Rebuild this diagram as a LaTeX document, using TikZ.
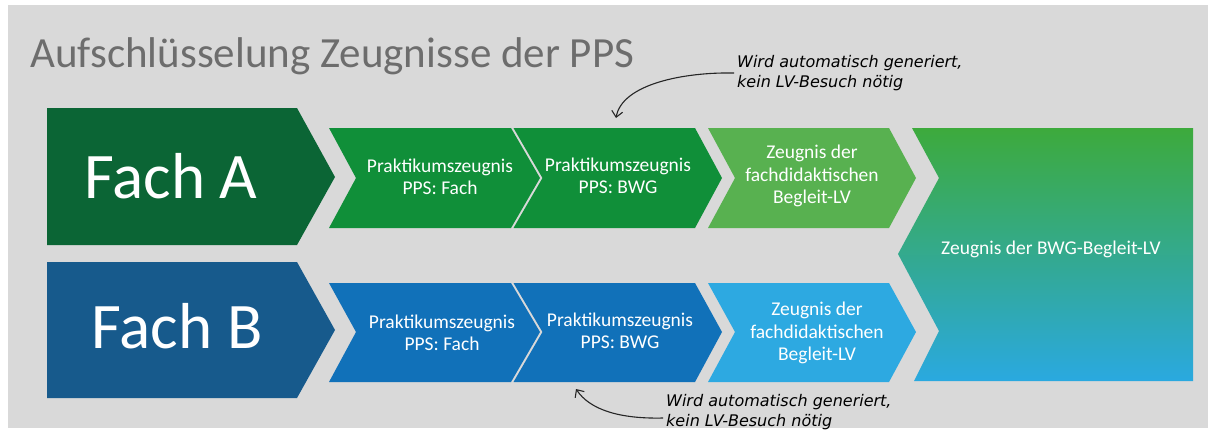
\documentclass[tikz,border=0pt]{standalone}
\usepackage{fontspec}
\setmainfont{Carlito}
\newfontfamily\handfont{DejaVu Sans}
\usetikzlibrary{arrows.meta}
\definecolor{bggray}{HTML}{D9D9D9}
\definecolor{titlegray}{HTML}{6D6D6D}
\definecolor{fachgreen}{RGB}{11,101,53}
\definecolor{ppsgreen}{RGB}{16,143,57}
\definecolor{fdgreen}{RGB}{88,177,80}
\definecolor{fachblue}{RGB}{23,90,140}
\definecolor{ppsblue}{RGB}{17,113,185}
\definecolor{fdblue}{RGB}{45,169,225}
\definecolor{bwgtop}{RGB}{61,170,60}
\definecolor{bwgbottom}{RGB}{42,169,224}
\tikzset{
  boxtext/.style={text=white, align=center, inner sep=0pt, font=\fontsize{19.5}{22.5}\selectfont},
  fachtext/.style={text=white, anchor=base, inner sep=0pt, font=\fontsize{65}{70}\selectfont},
  notetext/.style={anchor=west, align=left, inner sep=0pt, font=\handfont\itshape\fontsize{16}{20}\selectfont},
  notearrow/.style={-{Straight Barb[length=6pt,width=11pt]}, line width=1.1pt, black!85}
}
\begin{document}
\begin{tikzpicture}[x=1pt,y=-1pt]
\useasboundingbox (0,0) rectangle (1214,432);
\fill[bggray] (8,5) rectangle (1208,428);
% title
\node (title) [anchor=base west, inner sep=0pt, text=titlegray, font=\fontsize{43}{48}\selectfont] at (30,67) {Aufschl\"usselung Zeugnisse der PPS};
% Fach A row
\fill[fachgreen] (47,108) -- (297,108) -- (335,177) -- (297,245) -- (47,245) -- cycle;
\fill[ppsgreen] (329,128) -- (511,128) -- (540,178) -- (511,228) -- (329,228) -- (356,178) -- cycle;
\fill[ppsgreen] (513.5,128) -- (695,128) -- (722,178) -- (695,228) -- (513.5,228) -- (542.5,178) -- cycle;
\fill[fdgreen] (708,128) -- (889,128) -- (916,178) -- (889,228) -- (708,228) -- (735,178) -- cycle;
% Fach B row
\fill[fachblue] (47,262) -- (297,262) -- (335,330) -- (297,398) -- (47,398) -- cycle;
\fill[ppsblue] (329,283) -- (511,283) -- (540,332) -- (511,382) -- (329,382) -- (356,332) -- cycle;
\fill[ppsblue] (513.5,283) -- (695,283) -- (722,332) -- (695,382) -- (513.5,382) -- (542.5,332) -- cycle;
\fill[fdblue] (708,283) -- (889,283) -- (916,332) -- (889,382) -- (708,382) -- (735,332) -- cycle;
% BWG box
\shade[top color=bwgtop, bottom color=bwgbottom, middle color=bwgtop!50!bwgbottom]
  (912,128) -- (1193,128) -- (1193,381) -- (914,381) -- (939,331) -- (898,254) -- (939,178) -- cycle;
% texts
\node (fachA) [fachtext] at (171,198) {Fach A};
\node (fachB) [fachtext] at (177,348) {Fach B};
\node (ppsFachA) [boxtext] at (440,177) {Praktikumszeugnis\\PPS: Fach};
\node (ppsBwgA) [boxtext] at (618,176) {Praktikumszeugnis\\PPS: BWG};
\node (fdA) [boxtext] at (812,176) {Zeugnis der\\fachdidaktischen\\Begleit-LV};
\node (ppsFachB) [boxtext] at (442,333) {Praktikumszeugnis\\PPS: Fach};
\node (ppsBwgB) [boxtext] at (620,331) {Praktikumszeugnis\\PPS: BWG};
\node (fdB) [boxtext] at (817,333) {Zeugnis der\\fachdidaktischen\\Begleit-LV};
\node (bwg) [boxtext] at (1051,249) {Zeugnis der BWG-Begleit-LV};
% notes
\node (noteA) [notetext] at (737,73) {Wird automatisch generiert,\\kein LV-Besuch n\"otig};
\node (noteB) [notetext] at (666,412) {Wird automatisch generiert,\\kein LV-Besuch n\"otig};
\coordinate (tipA) at (616,118);
\coordinate (tipB) at (576,389);
\draw[notearrow] ([xshift=-3pt]noteA.west) .. controls (684,72) and (622,84) .. (tipA);
\draw[notearrow] ([xshift=-3pt,yshift=-6pt]noteB.west) .. controls (620,419) and (590,410) .. (tipB);
\end{tikzpicture}
\end{document}
